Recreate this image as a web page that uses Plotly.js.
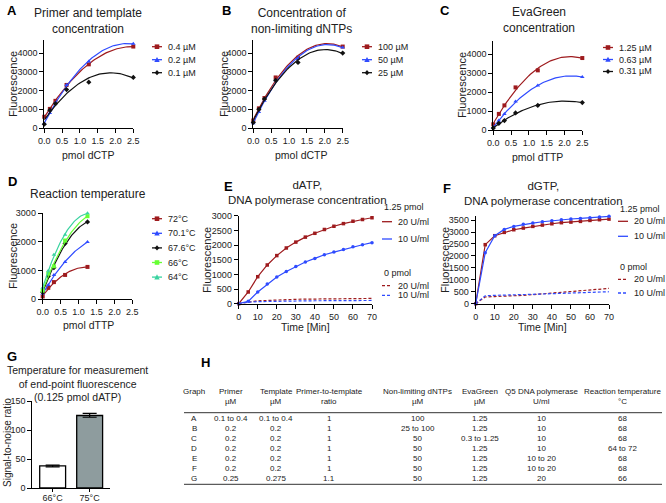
<!DOCTYPE html>
<html>
<head>
<meta charset="utf-8">
<script src="https://cdn.plot.ly/plotly-3.0.1.min.js"></script>
<style>
  html, body { margin: 0; padding: 0; background: #fff; }
  #chart { width: 666px; height: 503px; }
</style>
</head>
<body>
<div id="chart"></div>
<script>
// ---- data ----
var pmolA = [0, 0.156, 0.3125, 0.625, 1.25, 2.5];
var pmolD = [0, 0.156, 0.3125, 0.625, 1.25];
var minutes = [0, 5, 10, 15, 20, 25, 30, 35, 40, 45, 50, 55, 60, 65, 70];

// A: primer and template concentration
var primerLabels = ['0.4 µM', '0.2 µM', '0.1 µM'];
var primer04 = [600, 1020, 1450, 2300, 3400, 4350];
var primer02 = [250, 800, 1350, 2300, 3550, 4500];
var primer01 = [200, 950, 1300, 2050, 2450, 2700];

// B: non-limiting dNTPs
var dntpLabels = ['100 µM', '50 µM', '25 µM'];
var dntp100 = [400, 1050, 1600, 2700, 3750, 4350];
var dntp50 = [250, 850, 1450, 2550, 3700, 4300];
var dntp25 = [300, 1000, 1550, 2550, 3500, 4000];

// C: EvaGreen
var evaLabels = ['1.25 µM', '0.63 µM', '0.31 µM'];
var eva125 = [300, 850, 1300, 2250, 3150, 3800];
var eva063 = [150, 500, 850, 1500, 2350, 2800];
var eva031 = [100, 350, 500, 900, 1300, 1450];

// D: reaction temperature
var tempLabels = ['72°C', '70.1°C', '67.6°C', '66°C', '64°C'];
var temp72 = [100, 400, 600, 850, 1130];
var temp701 = [200, 500, 850, 1300, 2000];
var temp676 = [250, 800, 1100, 1950, 2700];
var temp66 = [300, 900, 1150, 2050, 2900];
var temp64 = [400, 1000, 1550, 2250, 3000];

// E: dATP kinetics
var dATP20 = [0, 400, 920, 1320, 1640, 1900, 2100, 2270, 2400, 2530, 2640, 2730, 2810, 2870, 2930];
var dATP10 = [0, 80, 400, 670, 910, 1100, 1270, 1420, 1545, 1670, 1760, 1850, 1940, 2010, 2080];
var dATP20neg = [0, 60, 100, 110, 130, 140, 150, 155, 160, 165, 170, 172, 175, 178, 180];
var dATP10neg = [0, 50, 70, 80, 85, 90, 95, 98, 100, 102, 104, 106, 108, 110, 110];

// F: dGTP kinetics
var dGTP20 = [0, 2470, 2845, 2985, 3095, 3165, 3235, 3290, 3345, 3390, 3415, 3445, 3485, 3515, 3540];
var dGTP10 = [0, 2135, 2845, 3110, 3235, 3320, 3375, 3430, 3475, 3515, 3545, 3570, 3600, 3625, 3655];
var dGTP20neg = [0, 280, 300, 310, 330, 350, 380, 410, 450, 490, 520, 550, 580, 610, 640];
var dGTP10neg = [0, 330, 350, 355, 360, 375, 390, 405, 420, 435, 450, 465, 480, 490, 500];

// G: end-point temperature
var endTemps = ['66°C', '75°C'];
var snr = [38, 125];
var snrErrUp = [1.5, 3.5];
var snrErrDown = [1.5, 3];

// H: conditions table
var tableHeader = [['Graph', ''], ['Primer', 'µM'], ['Template', 'µM'], ['Primer-to-template', 'ratio'],
  ['Non-limiting dNTPs', 'µM'], ['EvaGreen', 'µM'], ['Q5 DNA polymerase', 'U/ml'], ['Reaction temperature', '°C']];
var tableRows = [
  ['A', '0.1 to 0.4', '0.1 to 0.4', '1', '100', '1.25', '10', '68'],
  ['B', '0.2', '0.2', '1', '25 to 100', '1.25', '10', '68'],
  ['C', '0.2', '0.2', '1', '50', '0.3 to 1.25', '10', '68'],
  ['D', '0.2', '0.2', '1', '50', '1.25', '10', '64 to 72'],
  ['E', '0.2', '0.2', '1', '50', '1.25', '10 to 20', '68'],
  ['F', '0.2', '0.2', '1', '50', '1.25', '10 to 20', '68'],
  ['G', '0.25', '0.275', '1.1', '50', '1.25', '20', '66']
];

// ---- helpers ----
var W = 666, H = 503;
var FONT = 'Liberation Sans, Arial, Helvetica, sans-serif';
function px(x) { return x / W; }
function py(y) { return 1 - y / H; }

var RED = '#9e1b1e', BLUE = '#2f4bff', BLACK = '#111111', GREEN = '#66ff33', TEAL = '#3ad3a0';

// least squares second order polynomial, like the fit in the original
function quadFit(xs, ys) {
  var S = [[0, 0, 0], [0, 0, 0], [0, 0, 0]], T = [0, 0, 0];
  xs.forEach(function (x, i) {
    var p = [1, x, x * x];
    for (var r = 0; r < 3; r++) {
      for (var c = 0; c < 3; c++) S[r][c] += p[r] * p[c];
      T[r] += p[r] * ys[i];
    }
  });
  for (var k = 0; k < 3; k++) {
    for (var r2 = k + 1; r2 < 3; r2++) {
      var f = S[r2][k] / S[k][k];
      for (var c2 = k; c2 < 3; c2++) S[r2][c2] -= f * S[k][c2];
      T[r2] -= f * T[k];
    }
  }
  var b = [0, 0, 0];
  for (var i = 2; i >= 0; i--) {
    var s = T[i];
    for (var j = i + 1; j < 3; j++) s -= S[i][j] * b[j];
    b[i] = s / S[i][i];
  }
  return b;
}

var traces = [];

function fitSeries(xs, ys, color, symbol, n) {
  var b = quadFit(xs, ys);
  var xmax = xs[xs.length - 1];
  var cx = [], cy = [];
  for (var i = 0; i <= 60; i++) {
    var x = xmax * i / 60;
    cx.push(x);
    cy.push(b[0] + b[1] * x + b[2] * x * x);
  }
  var ax = n === 1 ? '' : String(n);
  traces.push({ x: cx, y: cy, type: 'scatter', mode: 'lines', line: { color: color, width: 1.2 },
    xaxis: 'x' + ax, yaxis: 'y' + ax, showlegend: false, hoverinfo: 'skip', cliponaxis: false });
  traces.push({ x: xs, y: ys, type: 'scatter', mode: 'markers',
    marker: { color: color, symbol: symbol, size: 4 },
    xaxis: 'x' + ax, yaxis: 'y' + ax, showlegend: false, cliponaxis: false });
}

function kinSeries(ys, color, symbol, dashed, n) {
  var ax = String(n);
  traces.push({ x: minutes, y: ys, type: 'scatter', mode: dashed ? 'lines' : 'lines+markers',
    line: { color: color, width: 1.2, dash: dashed ? '3px,2px' : 'solid' },
    marker: { color: color, symbol: symbol, size: 3.5 },
    xaxis: 'x' + ax, yaxis: 'y' + ax, showlegend: false, cliponaxis: false });
}

fitSeries(pmolA, primer04, RED, 'square', 1);
fitSeries(pmolA, primer02, BLUE, 'triangle-up', 1);
fitSeries(pmolA, primer01, BLACK, 'diamond', 1);

fitSeries(pmolA, dntp100, RED, 'square', 2);
fitSeries(pmolA, dntp50, BLUE, 'triangle-up', 2);
fitSeries(pmolA, dntp25, BLACK, 'diamond', 2);

fitSeries(pmolA, eva125, RED, 'square', 3);
fitSeries(pmolA, eva063, BLUE, 'triangle-up', 3);
fitSeries(pmolA, eva031, BLACK, 'diamond', 3);

fitSeries(pmolD, temp72, RED, 'square', 4);
fitSeries(pmolD, temp701, BLUE, 'triangle-up', 4);
fitSeries(pmolD, temp676, BLACK, 'diamond', 4);
fitSeries(pmolD, temp66, GREEN, 'square', 4);
fitSeries(pmolD, temp64, TEAL, 'triangle-up', 4);

kinSeries(dATP20neg, RED, 'square', true, 5);
kinSeries(dATP10neg, BLUE, 'circle', true, 5);
kinSeries(dATP20, RED, 'square', false, 5);
kinSeries(dATP10, BLUE, 'circle', false, 5);

kinSeries(dGTP20neg, RED, 'square', true, 6);
kinSeries(dGTP10neg, BLUE, 'circle', true, 6);
kinSeries(dGTP20, RED, 'square', false, 6);
kinSeries(dGTP10, BLUE, 'circle', false, 6);

traces.push({
  x: endTemps, y: snr, type: 'bar', xaxis: 'x7', yaxis: 'y7', width: 0.7, showlegend: false,
  marker: { color: ['#ffffff', '#8e9c9e'], line: { color: '#000', width: 1.3 } },
  error_y: { type: 'data', symmetric: false, array: snrErrUp, arrayminus: snrErrDown,
    color: '#000', thickness: 1.2, width: 7 }
});

// ---- axes ----
function axis(d0, d1, range, dtick, anchor, extra) {
  var a = {
    domain: [d0, d1], range: range, dtick: dtick, anchor: anchor,
    showline: true, linecolor: '#000', linewidth: 1, ticks: 'outside', ticklen: 4,
    tickcolor: '#000', tickwidth: 1, showgrid: false, zeroline: false, fixedrange: true,
    tickfont: { family: FONT, size: 9, color: '#222' }
  };
  for (var k in extra) a[k] = extra[k];
  return a;
}

var layout = {
  width: W, height: H, margin: { l: 0, r: 0, t: 0, b: 0 },
  paper_bgcolor: '#fff', plot_bgcolor: 'rgba(0,0,0,0)', showlegend: false,
  font: { family: FONT, color: '#222' },
  xaxis: axis(px(44.3), px(133.3), [0, 2.5], 0.5, 'y', { tickformat: '.1f' }),
  yaxis: axis(py(128), py(40), [0, 4700], 1000, 'x'),
  xaxis2: axis(px(253.3), px(342.7), [0, 2.5], 0.5, 'y2', { tickformat: '.1f' }),
  yaxis2: axis(py(128), py(40), [0, 4700], 1000, 'x2'),
  xaxis3: axis(px(493.3), px(582.3), [0, 2.5], 0.5, 'y3', { tickformat: '.1f' }),
  yaxis3: axis(py(130), py(41), [0, 4700], 1000, 'x3'),
  xaxis4: axis(px(42.7), px(132.3), [0, 2.5], 0.5, 'y4', { tickformat: '.1f' }),
  yaxis4: axis(py(299.3), py(213.3), [0, 3000], 1000, 'x4'),
  xaxis5: axis(px(238.7), px(372), [0, 70], 10, 'y5'),
  yaxis5: axis(py(303.7), py(215.7), [0, 3000], 500, 'x5'),
  xaxis6: axis(px(475.7), px(609), [0, 70], 10, 'y6'),
  yaxis6: axis(py(303.7), py(216), [0, 3670], 500, 'x6'),
  xaxis7: axis(px(32.3), px(110), [-0.55, 1.55], null, 'y7',
    { type: 'category', ticklen: 3, ticklabelstandoff: -2 }),
  yaxis7: axis(py(488), py(401), [0, 150], 50, 'x7'),
  annotations: [],
  shapes: []
};

function text(x, y, t, opts) {
  var a = {
    xref: 'paper', yref: 'paper', x: px(x), y: py(y), text: t, showarrow: false,
    xanchor: 'center', yanchor: 'middle',
    font: { family: FONT, size: 11, color: '#222' }
  };
  for (var k in opts) {
    if (k === 'size' || k === 'weight' || k === 'color') a.font[k] = opts[k];
    else a[k] = opts[k];
  }
  layout.annotations.push(a);
}

// panel letters
[['A', 12, 11], ['B', 226, 11], ['C', 445, 11], ['D', 12, 182], ['E', 228, 186],
 ['F', 447, 188], ['G', 12, 356], ['H', 205, 362]].forEach(function (l) {
  text(l[1], l[2], l[0], { size: 13, weight: 'bold', color: '#000' });
});

// panel titles
text(88, 20.5, 'Primer and template<br>concentration', { size: 12 });
text(301, 20.5, 'Concentration of<br>non-limiting dNTPs', { size: 12 });
text(539, 20, 'EvaGreen<br>concentration', { size: 12 });
text(88, 194, 'Reaction temperature', { size: 12 });
text(307, 192, 'dATP,<br>DNA polymerase concentration', { size: 11.5 });
text(543, 193, 'dGTP,<br>DNA polymerase concentration', { size: 11.5 });
text(77, 383.5, 'Temperature for measurement<br>of end-point fluorescence<br>(0.125 pmol dATP)', { size: 10.5 });

// axis titles
text(13, 84, 'Fluorescence', { textangle: -90, size: 11 });
text(88, 155, 'pmol dCTP', { size: 10.5 });
text(224, 84, 'Fluorescence', { textangle: -90, size: 11 });
text(301, 155, 'pmol dCTP', { size: 10.5 });
text(462, 85, 'Fluorescence', { textangle: -90, size: 11 });
text(537, 157, 'pmol dTTP', { size: 10.5 });
text(13, 256, 'Fluorescence', { textangle: -90, size: 11 });
text(88, 325, 'pmol dTTP', { size: 10.5 });
text(207, 260, 'Fluorescence', { textangle: -90, size: 11 });
text(305, 327, 'Time [Min]', { size: 10.5 });
text(445, 260, 'Fluorescence', { textangle: -90, size: 11 });
text(542, 327, 'Time [Min]', { size: 10.5 });
text(7, 443, 'Signal-to-noise ratio', { textangle: -90, size: 10 });

// legend keys (drawn manually, spacing follows the original)
function markerShape(cx, cy, color, symbol) {
  var r = 2.3, d;
  if (symbol === 'square') {
    d = 'M' + px(cx - r) + ',' + py(cy - r) + ' L' + px(cx + r) + ',' + py(cy - r) +
        ' L' + px(cx + r) + ',' + py(cy + r) + ' L' + px(cx - r) + ',' + py(cy + r) + ' Z';
  } else if (symbol === 'triangle-up') {
    d = 'M' + px(cx) + ',' + py(cy - r - 0.5) + ' L' + px(cx + r + 0.4) + ',' + py(cy + r) +
        ' L' + px(cx - r - 0.4) + ',' + py(cy + r) + ' Z';
  } else if (symbol === 'diamond') {
    d = 'M' + px(cx) + ',' + py(cy - r - 0.3) + ' L' + px(cx + r) + ',' + py(cy) +
        ' L' + px(cx) + ',' + py(cy + r + 0.3) + ' L' + px(cx - r) + ',' + py(cy) + ' Z';
  } else {
    return;
  }
  layout.shapes.push({ type: 'path', xref: 'paper', yref: 'paper', path: d,
    fillcolor: color, line: { width: 0 } });
}
function key(x, y, color, symbol, label, dash) {
  layout.shapes.push({ type: 'line', xref: 'paper', yref: 'paper', x0: px(x), x1: px(x + 10),
    y0: py(y), y1: py(y), line: { color: color, width: 1.3, dash: dash || 'solid' } });
  markerShape(x + 5, y, color, symbol);
  text(x + 14, y, label, { xanchor: 'left', size: 9 });
}
primerLabels.forEach(function (l, i) { key(152, 46.7 + 13 * i, [RED, BLUE, BLACK][i], ['square', 'triangle-up', 'diamond'][i], l); });
dntpLabels.forEach(function (l, i) { key(362, 46.7 + 13 * i, [RED, BLUE, BLACK][i], ['square', 'triangle-up', 'diamond'][i], l); });
evaLabels.forEach(function (l, i) { key(603, 47.5 + 12 * i, [RED, BLUE, BLACK][i], ['square', 'triangle-up', 'diamond'][i], l); });
tempLabels.forEach(function (l, i) {
  key(152, 218.7 + 14.6 * i, [RED, BLUE, BLACK, GREEN, TEAL][i], ['square', 'triangle-up', 'diamond', 'square', 'triangle-up'][i], l);
});

text(382, 206.7, '1.25 pmol', { xanchor: 'left', size: 9 });
key(382, 221.7, RED, 'none', '20 U/ml');
key(382, 239, BLUE, 'none', '10 U/ml');
text(382, 273.3, '0 pmol', { xanchor: 'left', size: 9 });
key(382, 285.7, RED, 'none', '20 U/ml', '3px,2px');
key(382, 295.3, BLUE, 'none', '10 U/ml', '3px,2px');

text(618, 209.3, '1.25 pmol', { xanchor: 'left', size: 9 });
key(618, 221.3, RED, 'none', '20 U/ml');
key(618, 236.3, BLUE, 'none', '10 U/ml');
text(618, 266.7, '0 pmol', { xanchor: 'left', size: 9 });
key(618, 279.3, RED, 'none', '20 U/ml', '3px,2px');
key(618, 293, BLUE, 'none', '10 U/ml', '3px,2px');

// table H
var colX = [194, 231, 276, 329, 418, 480, 541, 622];
tableHeader.forEach(function (h, c) {
  text(colX[c], 391, h[0], { size: 8 });
  if (h[1]) text(colX[c], 401.5, h[1], { size: 8 });
});
tableRows.forEach(function (row, r) {
  row.forEach(function (v, c) { text(colX[c], 418.7 + 10 * r, v, { size: 8 }); });
});
[412.7, 484.3].forEach(function (y) {
  layout.shapes.push({ type: 'line', xref: 'paper', yref: 'paper', x0: px(184), x1: px(662),
    y0: py(y), y1: py(y), line: { color: '#333', width: 1 } });
});

Plotly.newPlot('chart', traces, layout, { staticPlot: true, displayModeBar: false });
</script>
</body>
</html>
